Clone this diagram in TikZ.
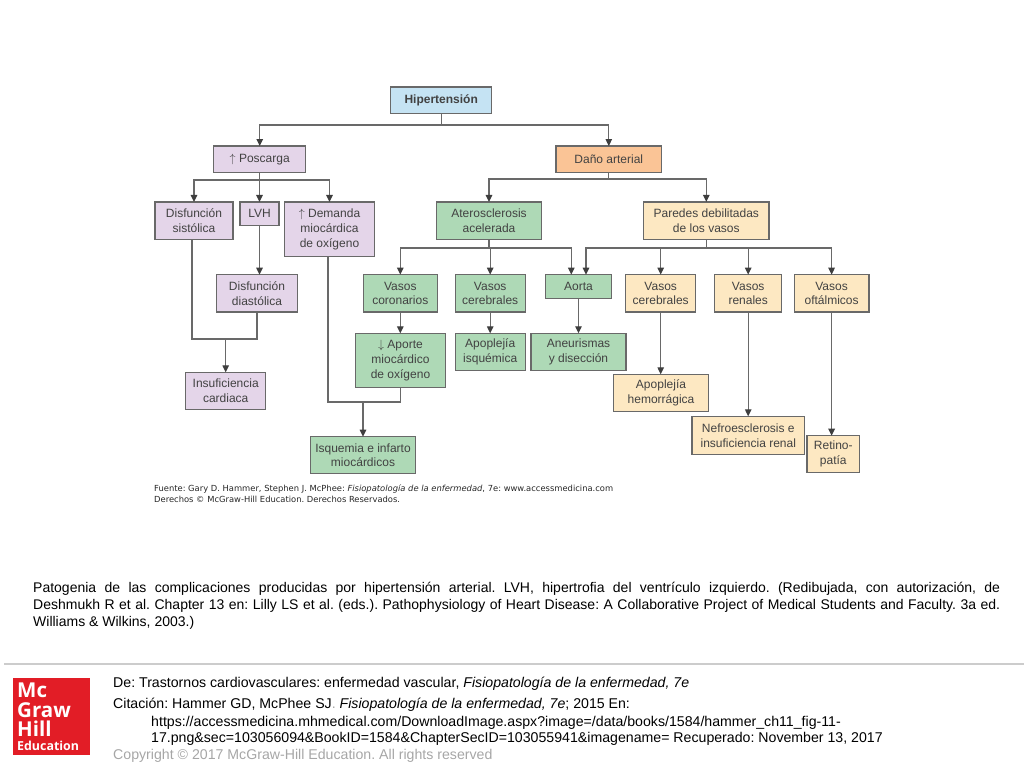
\documentclass[tikz,border=0pt]{standalone}
\usepackage{fontspec}
\setmainfont{Liberation Sans}
\newfontfamily\logofont{Open Sans}
\newfontfamily\sourcefont{DejaVu Sans}
\usetikzlibrary{arrows.meta,positioning}
\definecolor{myblue}{RGB}{197,227,243}
\definecolor{mypurple}{RGB}{228,213,233}
\definecolor{myorange}{RGB}{250,196,150}
\definecolor{mygreen}{RGB}{174,217,182}
\definecolor{mytan}{RGB}{253,232,194}
\definecolor{myedge}{RGB}{105,105,105}
\definecolor{mytext}{RGB}{66,66,66}
\definecolor{myhead}{RGB}{62,62,62}
\definecolor{myred}{RGB}{226,29,38}
\frenchspacing
\begin{document}
\begin{tikzpicture}[x=1pt,y=-1pt,
	box/.style={draw=myedge,line width=1.1pt,inner sep=0pt,outer sep=0pt,align=center,text=mytext,
		font=\fontsize{12}{14.7}\selectfont},
	hnode/.style={box,fill=myblue},
	pnode/.style={box,fill=mypurple},
	onode/.style={box,fill=myorange},
	gnode/.style={box,fill=mygreen},
	tnode/.style={box,fill=mytan},
	link/.style={draw=myedge,line width=1.2pt},
	arrow/.style={link,-{Triangle[length=7pt,width=6.5pt,color=myhead]}},
	footline/.style={anchor=base west,inner sep=0pt,font=\fontsize{14.15}{17}\selectfont},
	logoline/.style={anchor=base west,inner sep=0pt,text=white,font=\logofont\bfseries\fontsize{20.5}{21}\selectfont},
	sourceline/.style={anchor=base west,inner sep=0pt,text=black!85,font=\sourcefont\fontsize{8.37}{10}\selectfont},
	]
	\useasboundingbox (0,0) rectangle (1024,768);
	
	% top of the tree
	\node[hnode,minimum width=101,minimum height=26.7,font=\fontsize{12}{14.7}\selectfont\bfseries] (hip) at (441.2,100.3) {Hipertensión};
	\node[pnode,minimum width=92,minimum height=26.4] (pos) at (259.7,159.2) {$\uparrow$ Poscarga};
	\node[onode,minimum width=105.7,minimum height=26.6] (dano) at (608.8,159.3) {Daño arterial};
	
	% purple nodes
	\node[pnode,minimum width=78,minimum height=37.3] (sis) at (194,220.6) {Disfunción\\sistólica};
	\node[pnode,minimum width=39,minimum height=23.3] (lvh) at (259.5,213.6) {LVH};
	\node[pnode,minimum width=89.6,minimum height=54.7] (dem) at (329.5,229.3) {$\uparrow$ Demanda\\miocárdica\\de oxígeno};
	\node[pnode,minimum width=80.6,minimum height=37.3] (dia) at (257,293.3) {Disfunción\\diastólica};
	\node[pnode,minimum width=80,minimum height=37] (ins) at (225.7,390.8) {Insuficiencia\\cardiaca};
	
	% green nodes
	\node[gnode,minimum width=105.4,minimum height=37.3] (ate) at (489,220.6) {Aterosclerosis\\acelerada};
	\node[gnode,minimum width=74,minimum height=37.3] (cor) at (400.3,293.3) {Vasos\\coronarios};
	\node[gnode,minimum width=69.7,minimum height=37.3] (cer) at (490.2,293.3) {Vasos\\cerebrales};
	\node[gnode,minimum width=66.4,minimum height=24] (aor) at (578.5,286.7) {Aorta};
	\node[gnode,minimum width=90.4,minimum height=54.4] (apo) at (400.5,360.5) {$\downarrow$ Aporte\\miocárdico\\de oxígeno};
	\node[gnode,minimum width=69.7,minimum height=37] (isq) at (490.2,351.8) {Apoplejía\\isquémica};
	\node[gnode,minimum width=95,minimum height=37] (ane) at (578.5,351.8) {Aneurismas\\y disección};
	\node[gnode,minimum width=105.4,minimum height=37] (inf) at (363,455.2) {Isquemia e infarto\\miocárdicos};
	
	% tan nodes
	\node[tnode,minimum width=125.3,minimum height=37.3] (par) at (706.3,220.6) {Paredes debilitadas\\de los vasos};
	\node[tnode,minimum width=70,minimum height=37.3] (vce) at (660.7,293.3) {Vasos\\cerebrales};
	\node[tnode,minimum width=67,minimum height=37.3] (vre) at (748.2,293.3) {Vasos\\renales};
	\node[tnode,minimum width=74.7,minimum height=37.3] (vof) at (831.6,293.3) {Vasos\\oftálmicos};
	\node[tnode,minimum width=95.4,minimum height=37.4] (hem) at (661,393) {Apoplejía\\hemorrágica};
	\node[tnode,minimum width=112.7,minimum height=38.4] (nef) at (748.3,435.5) {Nefroesclerosis e\\insuficiencia renal};
	\node[tnode,minimum width=52.7,minimum height=36.6] (ret) at (833.3,454) {Retino-\\patía};
	
	% junctions
	\coordinate (jhip) at (441.2,125);
	\coordinate (jpos) at (259.7,180);
	\coordinate (jdan) at (608.8,179);
	\coordinate (jate) at (489,248);
	\coordinate (jpar) at (706.3,248);
	\coordinate (jins) at (225.7,339);
	\coordinate (jinf) at (363,402);
	
	% top edges
	\draw[link] (hip.south) -- (jhip);
	\foreach \t in {pos,dano}
	\draw[arrow] (jhip) -| (\t.north);
	\draw[link] (pos.south) -- (jpos);
	\foreach \t in {sis,lvh,dem}
	\draw[arrow] (jpos) -| (\t.north);
	\draw[link] (dano.south) -- (jdan);
	\foreach \t in {ate,par}
	\draw[arrow] (jdan) -| (\t.north);
	
	% artery edges
	\draw[link] (ate.south) -- (jate);
	\foreach \t in {cor,cer}
	\draw[arrow] (jate) -| (\t.north);
	\draw[arrow] (jate) -| ([xshift=-7.2pt]aor.north);
	\draw[link] (par.south) -- (jpar);
	\foreach \t in {vce,vre,vof}
	\draw[arrow] (jpar) -| (\t.north);
	\draw[arrow] (jpar) -| ([xshift=7.5pt]aor.north);
	
	% straight edges
	\draw[arrow] (lvh) -- (lvh |- dia.north);
	\draw[arrow] (cor) -- (cor |- apo.north);
	\draw[arrow] (cer) -- (cer |- isq.north);
	\draw[arrow] (aor) -- (aor |- ane.north);
	\draw[arrow] (vce) -- (vce |- hem.north);
	\draw[arrow] (vre) -- (vre |- nef.north);
	\draw[arrow] (vof) -- (vof |- ret.north);
	
	% joining edges
	\draw[link] ([xshift=-2pt]sis.south) |- (jins) -| (dia.south);
	\draw[arrow] (jins) -- (ins.north);
	\draw[link] ([xshift=-1.5pt]dem.south) |- (jinf) -| (apo.south);
	\draw[arrow] (jinf) -- (inf.north);
	
	% source of the figure
	\node[sourceline] (src1) at (154,491) {Fuente: Gary D. Hammer, Stephen J. McPhee: \textit{Fisiopatología de la enfermedad}, 7e: www.accessmedicina.com};
	\node[sourceline] (src2) at (154,502) {Derechos © McGraw-Hill Education. Derechos Reservados.};
	
	% caption
	\node[anchor=north west,inner sep=0pt,text width=967,align=justify,font=\fontsize{14}{17}\selectfont] (cap) at (33,581.5) {Patogenia de las complicaciones producidas por hipertensión arterial. LVH, hipertrofia del ventrículo izquierdo. (Redibujada, con autorización, de\linebreak Deshmukh R et al. Chapter 13 en: Lilly LS et al. (eds.). Pathophysiology of Heart Disease: A Collaborative Project of Medical Students and Faculty. 3a ed.\linebreak Williams \& Wilkins, 2003.)};
	
	% footer
	\draw[black!20,line width=2pt] (4,664) -- (1024,664);
	\node[fill=myred,inner sep=0pt,minimum size=77.6] (logo) at (51.5,716.5) {};
	\node[logoline] (mc) at (17,697.7) {Mc};
	\node[logoline] (graw) at (17,717.3) {Graw};
	\node[logoline] (hill) at (17,736.7) {Hill};
	\node[logoline,font=\logofont\bfseries\fontsize{12.4}{13}\selectfont] (edu) at (17,750.7) {Education};
	\node[footline] (de) at (113,687) {De: Trastornos cardiovasculares: enfermedad vascular, \textit{Fisiopatología de la enfermedad, 7e}};
	\node[footline] (cit) at (113,708) {Citación: Hammer GD, McPhee SJ\textcolor{black!35}{.} \textit{Fisiopatología de la enfermedad, 7e}; 2015 En:};
	\node[footline] (url1) at (151,726) {https://accessmedicina.mhmedical.com/DownloadImage.aspx?image=/data/books/1584/hammer\_ch11\_fig-11-};
	\node[footline] (url2) at (151,742) {17.png\&sec=103056094\&BookID=1584\&ChapterSecID=103055941\&imagename= Recuperado: November 13, 2017};
	\node[footline,text=black!35] (copy) at (113,759) {Copyright © 2017 McGraw-Hill Education. All rights reserved};
\end{tikzpicture}
\end{document}
